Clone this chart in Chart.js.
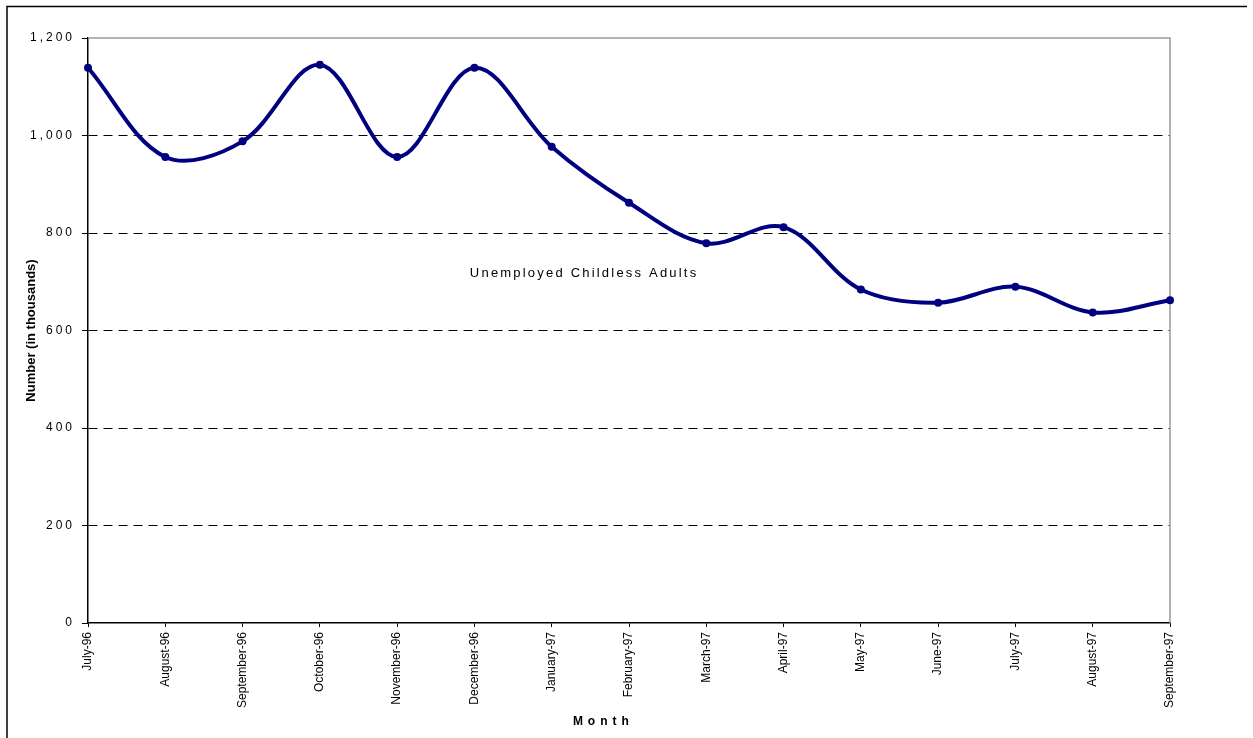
<!DOCTYPE html>
<html>
<head>
<meta charset="utf-8">
<title>Unemployed Childless Adults</title>
<script src="https://cdn.jsdelivr.net/npm/chart.js@4/dist/chart.umd.min.js"></script>
<style>
  html, body { margin: 0; padding: 0; background: #ffffff; }
  #chart { display: block; }
</style>
</head>
<body>
<canvas id="chart" width="1253" height="738"></canvas>
<script>
// Monthly counts, in thousands
const months = [
  'July-96', 'August-96', 'September-96', 'October-96', 'November-96',
  'December-96', 'January-97', 'February-97', 'March-97', 'April-97',
  'May-97', 'June-97', 'July-97', 'August-97', 'September-97'
];
const unemployedChildlessAdults = [
  1139, 956, 988, 1145, 956, 1139, 977, 862, 779, 812, 684, 657, 690, 637, 662
];
const yTicks = [0, 200, 400, 600, 800, 1000, 1200];

const seriesLabel = 'Unemployed Childless Adults';
const xTitle = 'Month';
const yTitle = 'Number (in thousands)';

const FONT = '"Liberation Sans", Arial, sans-serif';
const NAVY = '#000080';

// Draws text with extra spacing between letters, centred on x
function spacedText(ctx, text, x, y, font, spacing) {
  ctx.save();
  ctx.font = font;
  ctx.letterSpacing = spacing + 'px';
  ctx.fillStyle = '#000';
  ctx.textBaseline = 'middle';
  ctx.textAlign = 'left';
  const w = ctx.measureText(text).width - spacing;
  ctx.fillText(text, x - w / 2, y);
  ctx.restore();
}

// Outer frame, plot frame, in-plot series label and x axis title
const decorations = {
  id: 'decorations',
  beforeDatasetsDraw(chart) {
    const { ctx, chartArea: a } = chart;
    ctx.save();
    ctx.strokeStyle = '#9a9a9a';
    ctx.lineWidth = 1.5;
    ctx.beginPath();
    ctx.moveTo(a.left, a.top);
    ctx.lineTo(a.right, a.top);
    ctx.lineTo(a.right, a.bottom);
    ctx.stroke();
    ctx.restore();
  },
  afterDraw(chart) {
    const { ctx, chartArea: a, scales } = chart;
    ctx.save();
    ctx.strokeStyle = '#000';
    ctx.lineWidth = 1.5;
    ctx.beginPath();
    ctx.moveTo(7, 738);
    ctx.lineTo(7, 6.5);
    ctx.lineTo(1247, 6.5);
    ctx.stroke();
    ctx.restore();

    const labelX = a.left + (a.right - a.left) * 0.4575;
    const labelY = scales.y.getPixelForValue(718);
    spacedText(ctx, seriesLabel, labelX, labelY, '13px ' + FONT, 2.2);

    spacedText(ctx, xTitle, a.left + (a.right - a.left) * 0.474, 722, 'bold 12px ' + FONT, 5);
  }
};

const chart = new Chart(document.getElementById('chart'), {
  type: 'line',
  data: {
    labels: months,
    datasets: [{
      label: seriesLabel,
      data: unemployedChildlessAdults,
      borderColor: NAVY,
      backgroundColor: NAVY,
      borderWidth: 4,
      pointRadius: 4,
      pointBackgroundColor: NAVY,
      pointBorderColor: NAVY,
      pointBorderWidth: 0,
      tension: 0.35,
      fill: false,
      clip: false
    }]
  },
  options: {
    responsive: false,
    animation: false,
    events: [],
    layout: { padding: { left: 0, top: 38, right: 83, bottom: 0 } },
    plugins: {
      legend: { display: false },
      tooltip: { enabled: false },
      title: { display: false }
    },
    scales: {
      x: {
        type: 'category',
        offset: false,
        border: { display: true, color: '#000', width: 1.5 },
        grid: {
          display: true,
          drawOnChartArea: false,
          drawTicks: true,
          tickLength: 4,
          tickColor: '#000',
          tickWidth: 1
        },
        ticks: {
          autoSkip: false,
          minRotation: 90,
          maxRotation: 90,
          padding: 5,
          color: '#000',
          font: { family: FONT, size: 12 }
        },
        afterFit(scale) { scale.height = 115; }
      },
      y: {
        min: 0,
        max: 1200,
        afterBuildTicks(scale) { scale.ticks = yTicks.map(v => ({ value: v })); },
        border: { display: true, color: '#000', width: 1.5, dash: [9, 6] },
        grid: {
          color: ctx => (ctx.tick && (ctx.tick.value === 0 || ctx.tick.value === 1200)) ? 'rgba(0,0,0,0)' : '#000',
          lineWidth: 1,
          drawTicks: true,
          tickLength: 6,
          tickColor: '#000',
          tickWidth: 1,
          tickBorderDash: []
        },
        ticks: {
          padding: 7,
          color: '#000',
          font: { family: FONT, size: 12 },
          callback: v => Number(v).toLocaleString('en-US')
        },
        title: {
          display: true,
          text: yTitle,
          color: '#000',
          font: { family: FONT, size: 13, weight: 'bold' },
          padding: { top: 24, bottom: 0 }
        },
        afterFit(scale) {
          scale.width = 88;
          if (!scale._spacedLabels) {
            const base = scale.drawLabels;
            scale.drawLabels = function (area) {
              this.ctx.save();
              this.ctx.letterSpacing = '3px';
              base.call(this, area);
              this.ctx.restore();
            };
            scale._spacedLabels = true;
          }
        }
      }
    }
  },
  plugins: [decorations]
});
</script>
</body>
</html>
